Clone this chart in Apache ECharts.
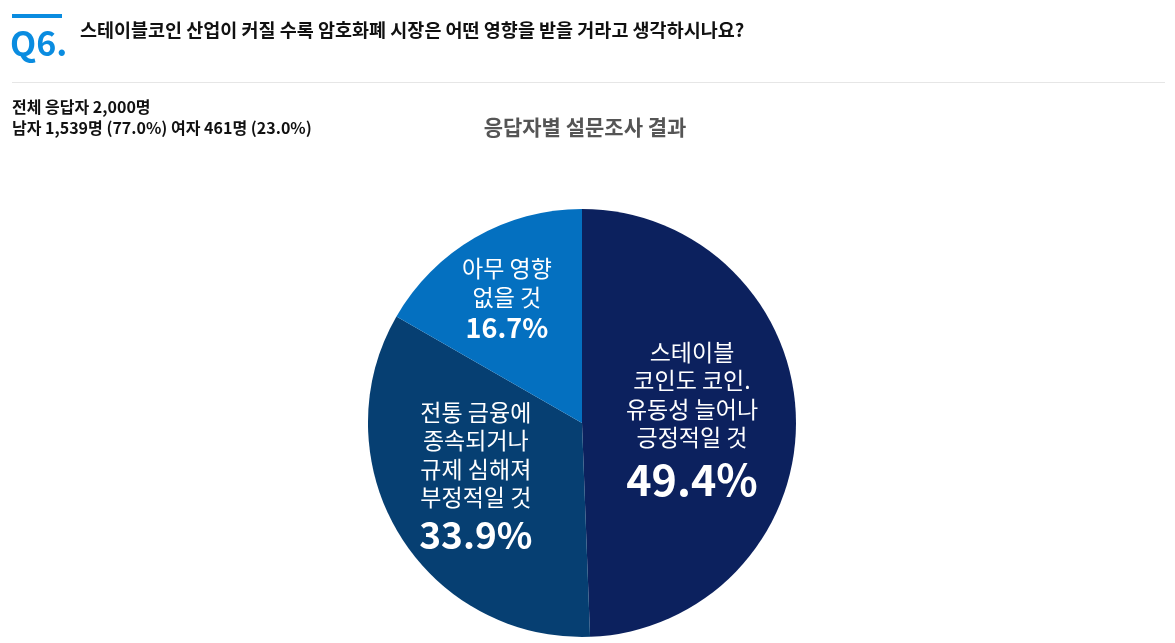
<!DOCTYPE html>
<html><head><meta charset="utf-8">
<script src="https://cdn.jsdelivr.net/npm/echarts@6/dist/echarts.min.js"></script>
<style>html,body{margin:0;padding:0;background:#fff;}#c{width:1175px;height:643px;}</style>
</head><body><div id="c"></div>
<script>
const categories = ['스테이블\n코인도 코인.\n유동성 늘어나\n긍정적일 것', '전통 금융에\n종속되거나\n규제 심해져\n부정적일 것', '아무 영향\n없을 것'];
const values = [49.4, 33.9, 16.7];
const colors = ['#0c215e', '#063f72', '#0470c0'];
const pctSize = ['big', 'mid', 'small'];
const offsets = [[0, 2], [-12, -2], [-20, -29]];

const chart = echarts.init(document.getElementById('c'));
const FONT = '"Noto Sans CJK KR", "Noto Sans", sans-serif';
chart.setOption({
  backgroundColor: '#fff',
  textStyle: { fontFamily: FONT },
  graphic: [
    { type: 'rect', shape: { x: 12, y: 14, width: 50, height: 4 }, style: { fill: '#0a8ce0' } },
    { type: 'text', left: 10, top: 26, style: { text: 'Q6.', fill: '#0a8ce0', font: 'bold 34px ' + FONT } },
    { type: 'text', left: 80, top: 21, style: { text: '스테이블코인 산업이 커질 수록 암호화폐 시장은 어떤 영향을 받을 거라고 생각하시나요?', fill: '#111', font: 'bold 18.5px ' + FONT } },
    { type: 'rect', shape: { x: 12, y: 82, width: 1153, height: 1 }, style: { fill: '#e6e6e6' } },
    { type: 'text', left: 12, top: 99, style: { text: '전체 응답자 2,000명', fill: '#111', font: 'bold 16px ' + FONT } },
    { type: 'text', left: 12, top: 120, style: { text: '남자 1,539명 (77.0%) 여자 461명 (23.0%)', fill: '#111', font: 'bold 16px ' + FONT } }
  ],
  title: {
    text: '응답자별 설문조사 결과', left: 580, top: 112, textAlign: 'center',
    textStyle: { color: '#555', fontSize: 21, fontWeight: 'bold', fontFamily: FONT }
  },
  series: [{
    type: 'pie',
    center: [582, 423],
    radius: [0, 214],
    startAngle: 90,
    clockwise: true,
    silent: true,
    data: categories.map((c, i) => ({ name: c, value: values[i], itemStyle: { color: colors[i] },
      label: { formatter: '{t|{b}}\n{' + pctSize[i] + '|{c}%}' } })),
    label: {
      position: 'inside',
      color: '#fff',
      align: 'center',
      rich: {
        t: { fontSize: 23, lineHeight: 28.5, color: '#fff', fontFamily: FONT },
        big: { fontSize: 43, fontWeight: 'bold', lineHeight: 56, color: '#fff', fontFamily: FONT },
        mid: { fontSize: 37, fontWeight: 'bold', lineHeight: 46, color: '#fff', fontFamily: FONT },
        small: { fontSize: 27, fontWeight: 'bold', lineHeight: 32, color: '#fff', fontFamily: FONT }
      }
    },
    labelLayout: function (p) { const o = offsets[p.dataIndex]; return { dx: o[0], dy: o[1] }; },
    labelLine: { show: false }
  }]
});
</script></body></html>
